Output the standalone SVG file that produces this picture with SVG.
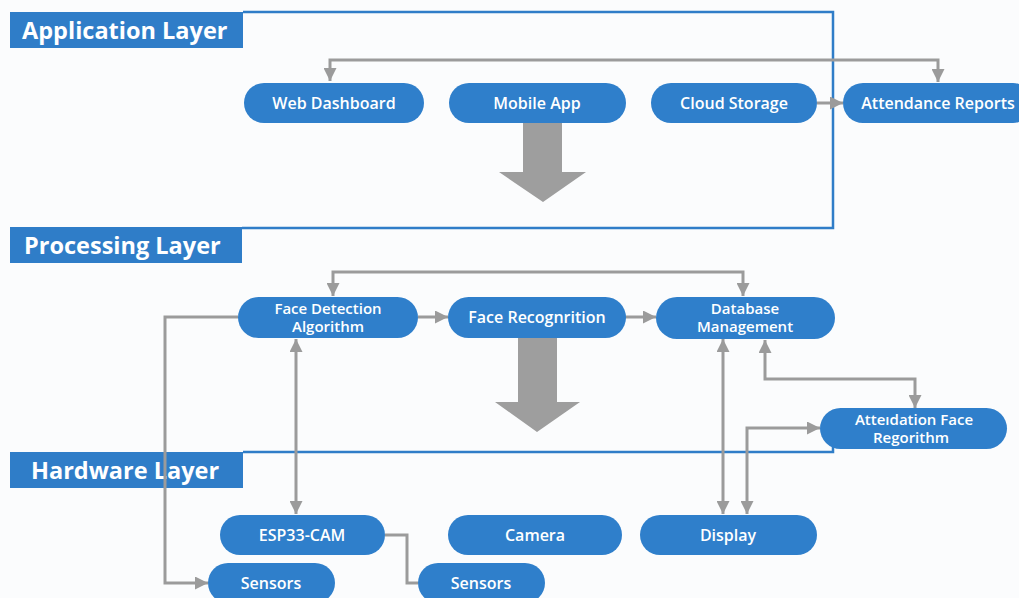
<svg xmlns="http://www.w3.org/2000/svg" width="1019" height="598" viewBox="0 0 1019 598">
<style>
.bg{fill:#fbfcfd}
.hdr{fill:#2f7dc8}
.hdrt{fill:#fff;font-family:"Open Sans","Liberation Sans",sans-serif;font-weight:700;font-size:23.5px}
.frame{fill:none;stroke:#2f7dc8;stroke-width:2.5}
.pill{fill:#2f7fcb}
.nt{fill:#fff;font-family:"Open Sans","Liberation Sans",sans-serif;font-weight:600;font-size:16px;text-anchor:middle}
.nt2{fill:#fff;font-family:"Open Sans","Liberation Sans",sans-serif;font-weight:600;font-size:15px;text-anchor:middle}
.c{fill:none;stroke:#9b9b9b;stroke-width:3}
.big{fill:#9e9e9e}
</style>
<defs>
<marker id="ah" viewBox="0 0 10 10" refX="10" refY="5" markerWidth="13" markerHeight="13" markerUnits="userSpaceOnUse" orient="auto-start-reverse">
<path d="M0,0 L10,5 L0,10 z" fill="#9b9b9b"/>
</marker>
</defs>
<rect class="bg" x="0" y="0" width="1019" height="598"/>

<g id="frames">
<path class="frame" d="M243,12 H833 V228 H242"/>
<path class="frame" d="M243,452 H833 V447"/>
</g>

<g id="layer-application">
<rect class="hdr" x="10" y="12" width="233" height="36"/>
<text class="hdrt" x="22" y="39">Application Layer</text>
</g>
<g id="layer-processing">
<rect class="hdr" x="10" y="227" width="232" height="36"/>
<text class="hdrt" x="24" y="254">Processing Layer</text>
</g>
<g id="layer-hardware">
<rect class="hdr" x="10" y="452" width="233" height="36"/>
<text class="hdrt" x="31" y="479">Hardware Layer</text>
</g>

<g id="connectors">
<path class="c" d="M634,60 H330 V81" marker-end="url(#ah)"/>
<path class="c" d="M634,60 H938 V82" marker-end="url(#ah)"/>
<path class="c" d="M817,103 H843" marker-end="url(#ah)"/>
<path class="c" d="M538,272 H333 V296" marker-end="url(#ah)"/>
<path class="c" d="M538,272 H743 V296" marker-end="url(#ah)"/>
<path class="c" d="M418,317 H448" marker-end="url(#ah)"/>
<path class="c" d="M625,317 H656" marker-end="url(#ah)"/>
<path class="c" d="M765,340 V379 H915 V408" marker-start="url(#ah)" marker-end="url(#ah)"/>
<path class="c" d="M238,317 H165 V583 H208" marker-end="url(#ah)"/>
<path class="c" d="M296,339 V514" marker-start="url(#ah)" marker-end="url(#ah)"/>
<path class="c" d="M723,339 V514" marker-start="url(#ah)" marker-end="url(#ah)"/>
<path class="c" d="M747,514 V428 H820" marker-start="url(#ah)" marker-end="url(#ah)"/>
<path class="c" d="M385,535 H407 V583 H418"/>
<polygon class="big" points="523,123 562,123 562,172 586,172 543,202 499,172 523,172"/>
<polygon class="big" points="518,338 557,338 557,402 580,402 537,432 495,402 518,402"/>
</g>

<g id="web-dashboard">
<rect class="pill" x="244" y="83" width="180" height="40" rx="20"/>
<text class="nt" x="334" y="108.5">Web Dashboard</text>
</g>
<g id="mobile-app">
<rect class="pill" x="449" y="83" width="177" height="40" rx="20"/>
<text class="nt" x="537" y="108.5">Mobile App</text>
</g>
<g id="cloud-storage">
<rect class="pill" x="651" y="83" width="166" height="40" rx="20"/>
<text class="nt" x="734" y="108.5">Cloud Storage</text>
</g>
<g id="attendance-reports">
<rect class="pill" x="843" y="83" width="190" height="40" rx="20"/>
<text class="nt" x="938" y="108.5">Attendance Reports</text>
</g>

<g id="face-detection">
<rect class="pill" x="238" y="297" width="180" height="41" rx="20.5"/>
<text class="nt2" x="328" y="314"><tspan x="328">Face Detection</tspan><tspan x="328" dy="17.5">Algorithm</tspan></text>
</g>
<g id="face-recognition">
<rect class="pill" x="448" y="297" width="178" height="41" rx="20.5"/>
<text class="nt" x="537" y="323">Face Recognrition</text>
</g>
<g id="database-management">
<rect class="pill" x="656" y="297" width="179" height="42" rx="21"/>
<text class="nt2" x="745" y="314"><tspan x="745">Database</tspan><tspan x="745" dy="17.5">Management</tspan></text>
</g>
<g id="attendation-face">
<rect class="pill" x="820" y="408" width="187" height="41" rx="20.5"/>
<text class="nt2" x="914" y="425"><tspan x="914">Atteıdation Face</tspan><tspan x="911" dy="17.5">Regorithm</tspan></text>
</g>

<g id="esp33-cam">
<rect class="pill" x="220" y="515" width="165" height="40" rx="20"/>
<text class="nt" x="302" y="540.5">ESP33-CAM</text>
</g>
<g id="camera">
<rect class="pill" x="448" y="515" width="174" height="40" rx="20"/>
<text class="nt" x="535" y="540.5">Camera</text>
</g>
<g id="display">
<rect class="pill" x="640" y="515" width="177" height="40" rx="20"/>
<text class="nt" x="728" y="540.5">Display</text>
</g>
<g id="sensors-1">
<rect class="pill" x="208" y="563" width="127" height="40" rx="20"/>
<text class="nt" x="271" y="588.5">Sensors</text>
</g>
<g id="sensors-2">
<rect class="pill" x="418" y="563" width="127" height="40" rx="20"/>
<text class="nt" x="481" y="588.5">Sensors</text>
</g>
</svg>
